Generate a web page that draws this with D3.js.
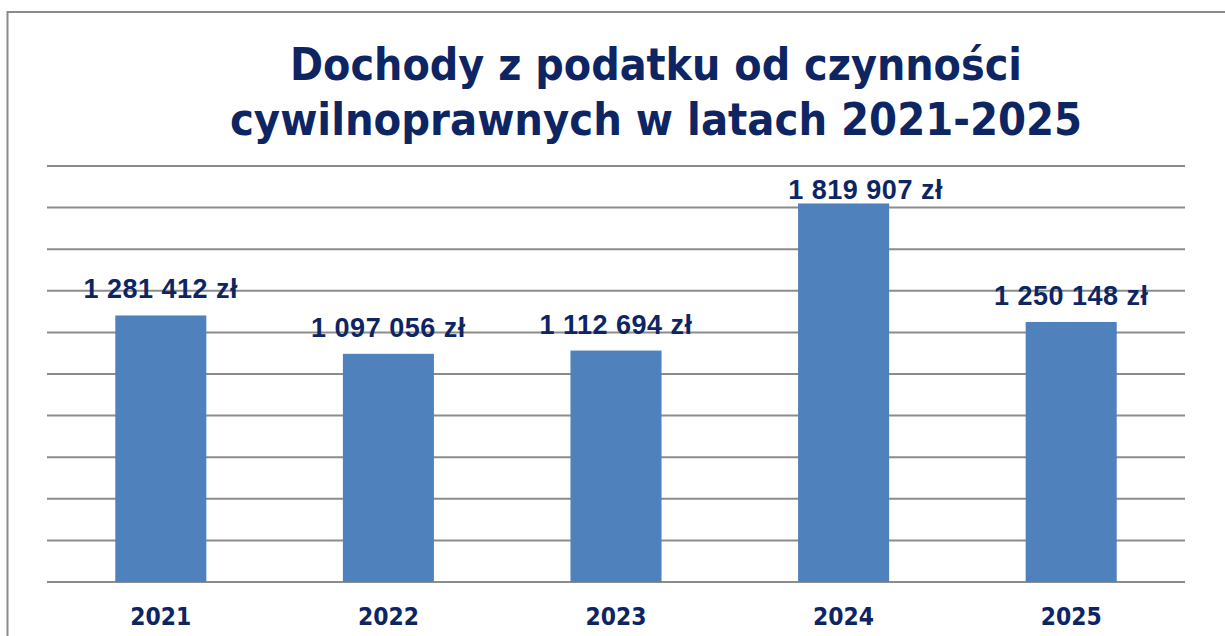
<!DOCTYPE html>
<html>
<head>
<meta charset="utf-8">
<script src="https://cdn.jsdelivr.net/npm/d3@7"></script>
<style>
  html, body { margin: 0; padding: 0; background: #fff; overflow: hidden; }
  svg { display: block; }
</style>
</head>
<body>
<div id="chart"></div>
<script>
(function () {
    'use strict';

    // data
    var years = ['2021', '2022', '2023', '2024', '2025'];
    var income = [1281412, 1097056, 1112694, 1819907, 1250148];
    var gridTicks = [0, 200000, 400000, 600000, 800000, 1000000, 1200000, 1400000, 1600000, 1800000, 2000000];
    var titleLines = ['Dochody z podatku od czynności', 'cywilnoprawnych w latach 2021-2025'];

    var width = 1225, height = 636;
    var navy = '#0e2563';

    var svg = d3.select('#chart').append('svg')
        .attr('width', width)
        .attr('height', height);

    // outer frame (runs off the right and bottom edge)
    svg.append('rect')
        .attr('x', 7.5).attr('y', 12)
        .attr('width', width + 20).attr('height', height + 20)
        .attr('fill', '#fff')
        .attr('stroke', '#8a8a8a')
        .attr('stroke-width', 2);

    var x = d3.scaleBand()
        .domain(years)
        .range([47, 1185])
        .paddingInner(0.6)
        .paddingOuter(0.3);

    var y = d3.scaleLinear()
        .domain([0, 2000000])
        .range([582, 166]);

    // title
    var titleWidths = [732, 852];
    svg.selectAll('text.title')
        .data(titleLines)
        .enter().append('text')
        .attr('class', 'title')
        .attr('x', 656)
        .attr('y', function (d, i) { return 80 + i * 55; })
        .attr('text-anchor', 'middle')
        .attr('textLength', function (d, i) { return titleWidths[i]; })
        .attr('lengthAdjust', 'spacingAndGlyphs')
        .style('font-family', '"DejaVu Sans", Verdana, sans-serif')
        .style('font-weight', 'bold')
        .style('font-size', '45px')
        .style('fill', navy)
        .text(function (d) { return d; });

    // gridlines
    svg.append('g')
        .selectAll('line')
        .data(gridTicks)
        .enter().append('line')
        .attr('x1', 47).attr('x2', 1185)
        .attr('y1', function (d) { return y(d); })
        .attr('y2', function (d) { return y(d); })
        .attr('stroke', '#8c8c8c')
        .attr('stroke-width', 2);

    // bars
    svg.append('g')
        .selectAll('rect')
        .data(income)
        .enter().append('rect')
        .attr('x', function (d, i) { return x(years[i]); })
        .attr('y', function (d) { return y(d); })
        .attr('width', x.bandwidth())
        .attr('height', function (d) { return y(0) - y(d); })
        .attr('fill', '#4f81bd');

    // value labels, pushed down/right when they'd leave the plot area
    var fmt = function (v) {
        return d3.format(',')(v).replace(/,/g, ' ') + ' zł';
    };
    var minBase = y(2000000) + 33;
    svg.append('g')
        .selectAll('text')
        .data(income)
        .enter().append('text')
        .attr('x', function (d, i) {
            var cx = x(years[i]) + x.bandwidth() / 2;
            return (y(d) - 17 < minBase) ? cx + 22 : cx;
        })
        .attr('y', function (d) { return Math.max(y(d) - 17, minBase); })
        .attr('text-anchor', 'middle')
        .style('font-family', '"Liberation Sans", Arial, sans-serif')
        .style('font-weight', 'bold')
        .style('font-size', '27px')
        .style('letter-spacing', '0.5px')
        .style('fill', navy)
        .text(fmt);

    // category labels
    svg.append('g')
        .selectAll('text')
        .data(years)
        .enter().append('text')
        .attr('x', function (d) { return x(d) + x.bandwidth() / 2; })
        .attr('y', 625)
        .attr('text-anchor', 'middle')
        .attr('textLength', 61)
        .attr('lengthAdjust', 'spacingAndGlyphs')
        .style('font-family', '"DejaVu Sans", Verdana, sans-serif')
        .style('font-weight', 'bold')
        .style('font-size', '25px')
        .style('fill', navy)
        .text(function (d) { return d; });

}());
</script>
</body>
</html>
